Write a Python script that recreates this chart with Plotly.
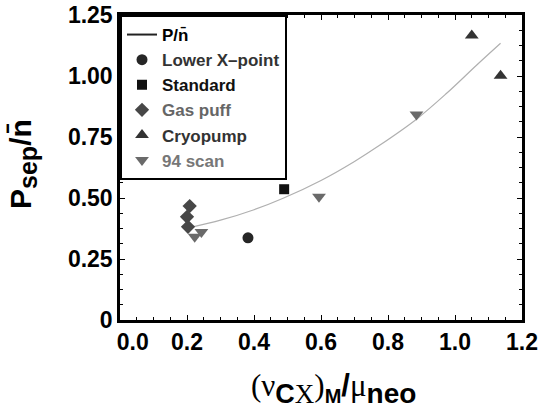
import plotly.graph_objects as go

# Data
lowerx_x = [0.382]
lowerx_y = [0.337]
standard_x = [0.490]
standard_y = [0.536]
gaspuff_x = [0.208, 0.200, 0.203]
gaspuff_y = [0.467, 0.423, 0.382]
cryo_x = [1.050, 1.136]
cryo_y = [1.166, 1.001]
scan94_x = [0.223, 0.243, 0.594, 0.885]
scan94_y = [0.341, 0.361, 0.505, 0.842]
fit_x = [0.217, 0.30, 0.40, 0.487, 0.60, 0.70, 0.776, 0.885, 0.975, 1.065, 1.136]
fit_y = [0.382, 0.409, 0.452, 0.499, 0.572, 0.650, 0.717, 0.823, 0.929, 1.045, 1.134]

x_tickvals = [0.0, 0.2, 0.4, 0.6, 0.8, 1.0, 1.2]
x_ticktext = ["\u00a0\u00a0\u00a0\u00a00.0", "0.2", "0.4", "0.6", "0.8", "1.0", "1.2"]
y_tickvals = [0, 0.25, 0.5, 0.75, 1.0, 1.25]
y_ticktext = ["0", "0.25", "0.50", "0.75", "1.00", "1.25"]

SANS = "Liberation Sans, Arial, sans-serif"
SER = 'font-family:Liberation Serif;font-weight:normal'

fig = go.Figure()

# fitted curve (plot) and its legend entry
fig.add_trace(go.Scatter(x=fit_x, y=fit_y, mode="lines", line=dict(color="#b0b0b0", width=1.2, shape="spline"),
                         showlegend=False, hoverinfo="skip"))
fig.add_trace(go.Scatter(x=[None], y=[None], mode="lines", line=dict(color="#222222", width=2),
                         name="P/n\u0304"))
fig.add_trace(go.Scatter(x=lowerx_x, y=lowerx_y, mode="markers",
                         marker=dict(symbol="circle", size=11, color="#262626"),
                         name='<span style="color:#333333">Lower X\u2013point</span>'))
fig.add_trace(go.Scatter(x=standard_x, y=standard_y, mode="markers",
                         marker=dict(symbol="square", size=10, color="#111111"),
                         name='<span style="color:#111111">Standard</span>'))
fig.add_trace(go.Scatter(x=gaspuff_x, y=gaspuff_y, mode="markers",
                         marker=dict(symbol="diamond", size=11, color="#474747"),
                         name='<span style="color:#666666">Gas puff</span>'))
fig.add_trace(go.Scatter(x=cryo_x, y=cryo_y, mode="markers",
                         marker=dict(symbol="triangle-up", size=12, color="#333333"),
                         name='<span style="color:#333333">Cryopump</span>'))
fig.add_trace(go.Scatter(x=scan94_x, y=scan94_y, mode="markers",
                         marker=dict(symbol="triangle-down", size=12, color="#6a6a6a"),
                         name='<span style="color:#777777">94 scan</span>'))

axis_common = dict(
    showline=True, linecolor="black", linewidth=2.5, mirror="allticks",
    ticks="inside", ticklen=5, tickwidth=1.2, tickcolor="black",
    showgrid=False, zeroline=False, automargin=False,
    tickfont=dict(family=SANS, size=23, color="black", weight="bold"),
)

fig.update_xaxes(
    range=[0, 1.2], tickvals=x_tickvals, ticktext=x_ticktext,
    minor=dict(dtick=0.05, tick0=0, ticks="inside", ticklen=3, tickcolor="black", tickwidth=1),
    **axis_common,
)
fig.update_yaxes(
    range=[0, 1.25], tickvals=y_tickvals, ticktext=y_ticktext,
    minor=dict(dtick=0.0625, tick0=0, ticks="inside", ticklen=3, tickcolor="black", tickwidth=1),
    **axis_common,
)

x_title = (f'<span style="{SER}">(\u03bd</span>'
           f'<sub><span style="font-size:27px">C<span style="{SER}">X</span></span></sub>'
           f'<span style="{SER}">)</span>'
           '<sub><span style="font-size:20px">M</span></sub>/'
           f'<span style="{SER}">\u03bc</span>'
           '<sub><span style="font-size:28px">neo</span></sub>')
y_title = 'P<sub><span style="font-size:25px">sep</span></sub>/n\u0304'

fig.add_annotation(text=x_title, xref="paper", yref="paper", x=0.53, y=-0.225,
                   xanchor="center", yanchor="middle", showarrow=False,
                   font=dict(family=SANS, size=31, color="black", weight="bold"))
fig.add_annotation(text=y_title, xref="paper", yref="paper", x=-0.24, y=0.51,
                   xanchor="center", yanchor="middle", showarrow=False, textangle=-90,
                   font=dict(family=SANS, size=30, color="black", weight="bold"))

fig.update_layout(
    width=542, height=416,
    margin=dict(l=120, r=20, t=15, b=96),
    paper_bgcolor="white", plot_bgcolor="white",
    font=dict(family=SANS, color="black"),
    legend=dict(x=0, y=1, xanchor="left", yanchor="top",
                bordercolor="black", borderwidth=2, bgcolor="white",
                font=dict(family=SANS, size=17, color="black", weight="bold"),
                itemwidth=30, tracegroupgap=0),
)

fig.write_html("out.html")
